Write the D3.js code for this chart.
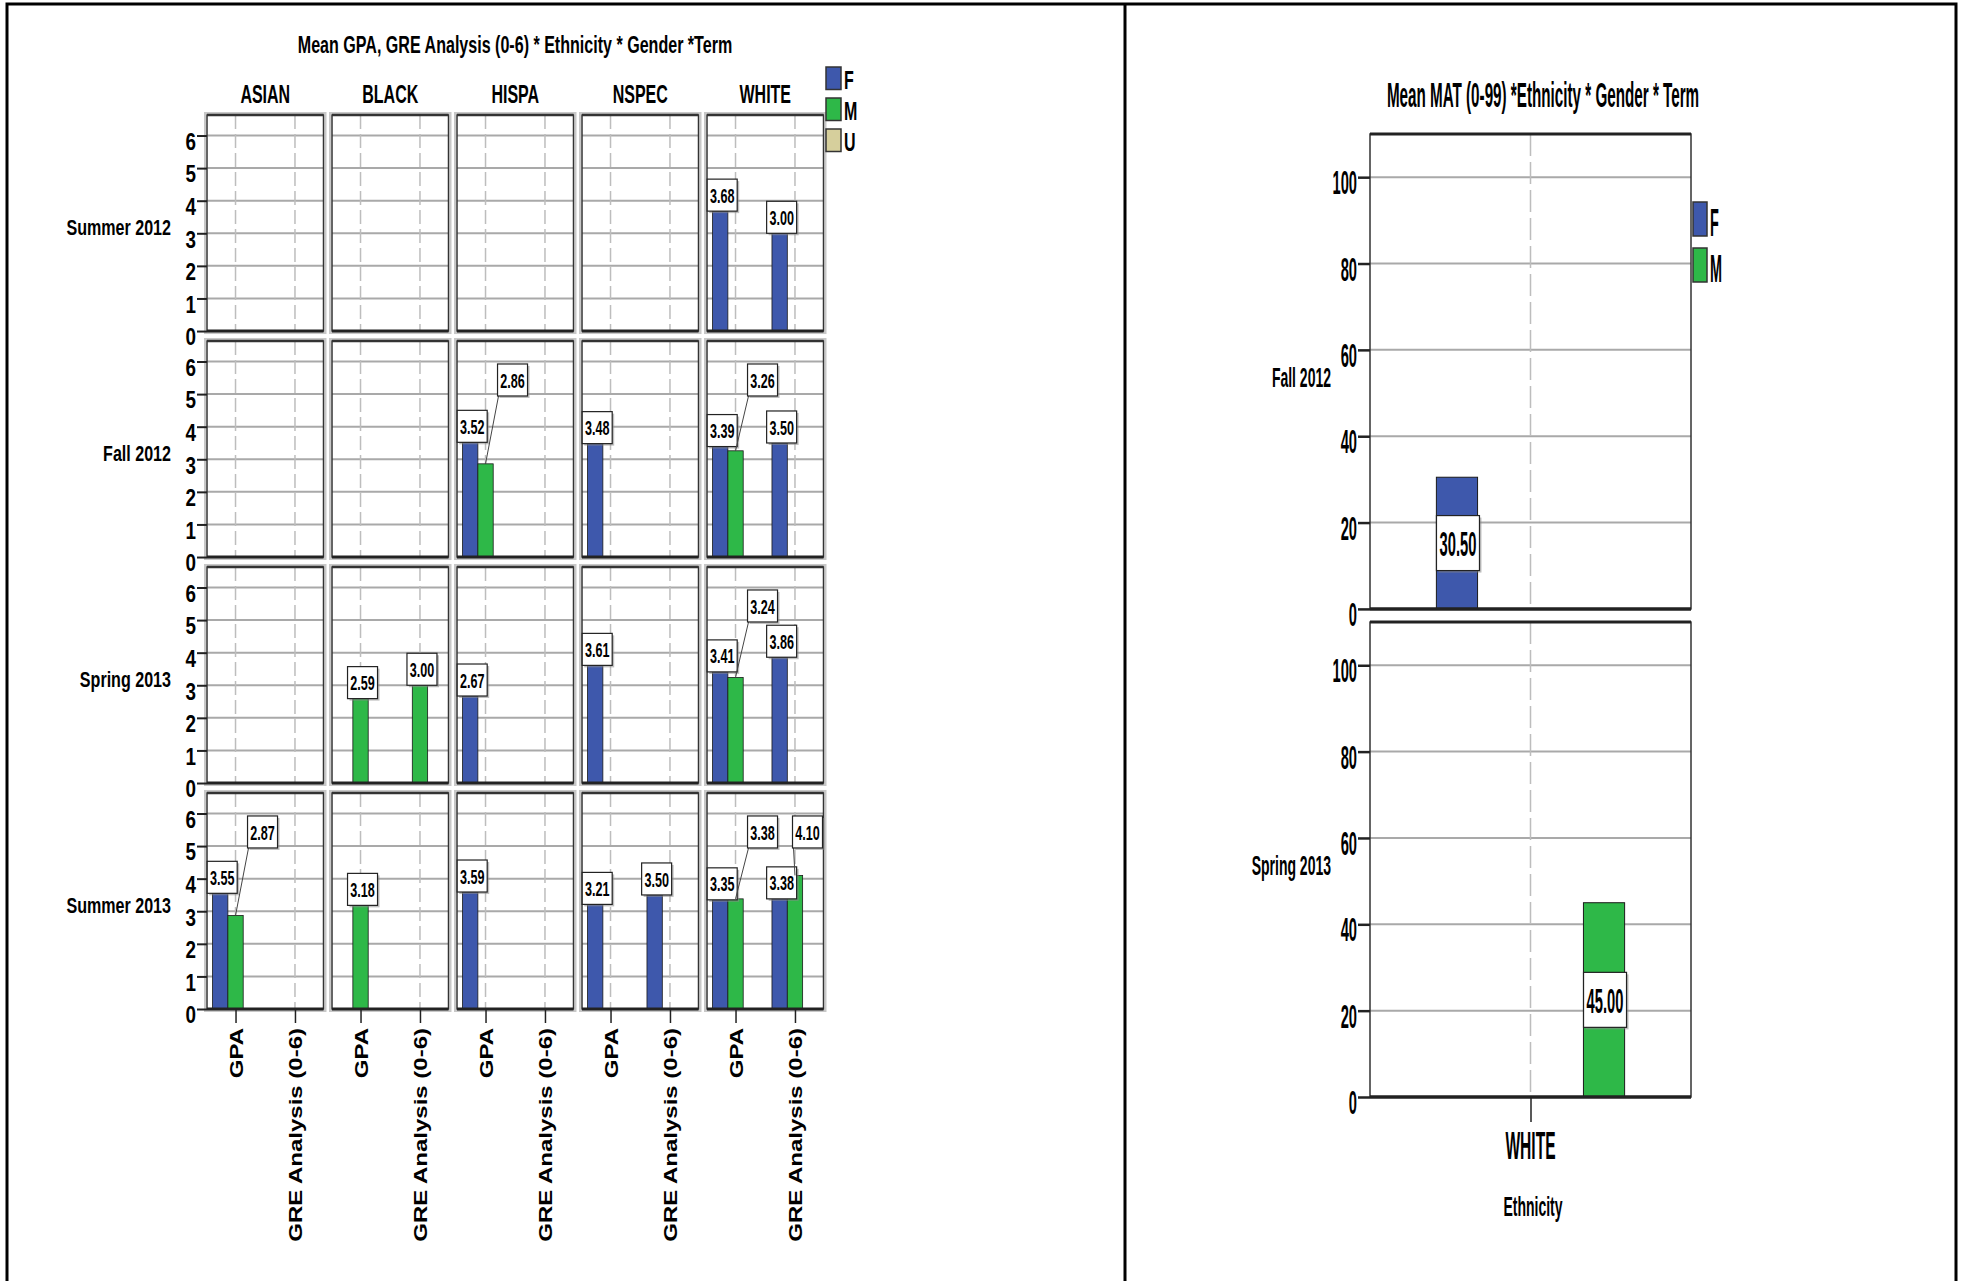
<!DOCTYPE html>
<html>

<head>
    <meta charset="UTF-8">
    <style>
        body { margin: 0; background: #fff; }
        svg text { font-family: "Liberation Sans", Arial, sans-serif; fill: #000; }
    </style>
    <title>Mean GPA, GRE Analysis and MAT by Ethnicity, Gender and Term</title>
</head>

<body>
    <svg></svg>
    <script src="https://d3js.org/d3.v7.min.js"></script>
    <script>
        let width = 1963, height = 1281;

        // ---- data: left chart (GPA / GRE Analysis) ----
        const terms = ["Summer 2012", "Fall 2012", "Spring 2013", "Summer 2013"];
        const ethnicities = ["ASIAN", "BLACK", "HISPA", "NSPEC", "WHITE"];
        const measures = ["GPA", "GRE Analysis (0-6)"];
        const genders = ["F", "M", "U"];
        const gpaTicks = [0, 1, 2, 3, 4, 5, 6];
        // [term, ethnicity, measure, gender, mean]
        const gpaGreMeans = [
            ["Summer 2012", "WHITE", "GPA", "F", 3.68],
            ["Summer 2012", "WHITE", "GRE Analysis (0-6)", "F", 3.00],
            ["Fall 2012", "HISPA", "GPA", "F", 3.52],
            ["Fall 2012", "HISPA", "GPA", "M", 2.86],
            ["Fall 2012", "NSPEC", "GPA", "F", 3.48],
            ["Fall 2012", "WHITE", "GPA", "F", 3.39],
            ["Fall 2012", "WHITE", "GPA", "M", 3.26],
            ["Fall 2012", "WHITE", "GRE Analysis (0-6)", "F", 3.50],
            ["Spring 2013", "BLACK", "GPA", "M", 2.59],
            ["Spring 2013", "BLACK", "GRE Analysis (0-6)", "M", 3.00],
            ["Spring 2013", "HISPA", "GPA", "F", 2.67],
            ["Spring 2013", "NSPEC", "GPA", "F", 3.61],
            ["Spring 2013", "WHITE", "GPA", "F", 3.41],
            ["Spring 2013", "WHITE", "GPA", "M", 3.24],
            ["Spring 2013", "WHITE", "GRE Analysis (0-6)", "F", 3.86],
            ["Summer 2013", "ASIAN", "GPA", "F", 3.55],
            ["Summer 2013", "ASIAN", "GPA", "M", 2.87],
            ["Summer 2013", "BLACK", "GPA", "M", 3.18],
            ["Summer 2013", "HISPA", "GPA", "F", 3.59],
            ["Summer 2013", "NSPEC", "GPA", "F", 3.21],
            ["Summer 2013", "NSPEC", "GRE Analysis (0-6)", "F", 3.50],
            ["Summer 2013", "WHITE", "GPA", "F", 3.35],
            ["Summer 2013", "WHITE", "GPA", "M", 3.38],
            ["Summer 2013", "WHITE", "GRE Analysis (0-6)", "F", 3.38],
            ["Summer 2013", "WHITE", "GRE Analysis (0-6)", "M", 4.10]
        ];

        // ---- data: right chart (MAT) ----
        const matTerms = ["Fall 2012", "Spring 2013"];
        const matEthnicities = ["WHITE"];
        const matGenders = ["F", "M"];
        const matTicks = [0, 20, 40, 60, 80, 100];
        // [term, ethnicity, gender, mean]
        const matMeans = [
            ["Fall 2012", "WHITE", "F", 30.50],
            ["Spring 2013", "WHITE", "M", 45.00]
        ];

        const genderColor = d3.scaleOrdinal()
            .domain(["F", "M", "U"])
            .range(["#3e58ac", "#2eb848", "#d6cf9c"]);

        let svg = d3.select("svg")
            .attr("width", width)
            .attr("height", height)
            .attr("viewBox", "0 0 " + width + " " + height);

        // condensed text helper (the original is squeezed horizontally)
        function sqText(parent, x, y, str, o) {
            return parent.append("text")
                .attr("transform", `translate(${x},${y}) scale(${o.sx},1)`)
                .attr("text-anchor", o.anchor || "middle")
                .attr("font-size", o.size)
                .attr("font-weight", o.weight || "bold")
                .text(str);
        }

        function labelBox(parent, cx, cy, w, h, str, size, sx) {
            parent.append("rect")
                .attr("x", cx - w / 2 + 2).attr("y", cy - h / 2 + 2)
                .attr("width", w).attr("height", h)
                .attr("fill", "#8a8a8a").attr("opacity", 0.55);
            parent.append("rect")
                .attr("x", cx - w / 2).attr("y", cy - h / 2)
                .attr("width", w).attr("height", h)
                .attr("fill", "#fff").attr("stroke", "#222").attr("stroke-width", 1.2);
            sqText(parent, cx, cy, str, { size: size, sx: sx }).attr("dy", "0.36em");
        }

        // outer frame + divider
        svg.append("path")
            .attr("d", "M7,1281 V4 H1956 V1281 M1125,4 V1281")
            .attr("fill", "none")
            .attr("stroke", "#000")
            .attr("stroke-width", 3);

        // =================== LEFT CHART ===================
        const L = { left: 207, right: 823.5, top: 115, bottom: 1009 };
        const col = d3.scaleBand().domain(ethnicities).range([L.left, L.right]).paddingInner(0.068);
        const row = d3.scaleBand().domain(terms).range([L.top, L.bottom]).paddingInner(0.044);
        const y = d3.scaleLinear().domain([0, 6.63]).range([row.bandwidth(), 0]);
        const xm = d3.scalePoint().domain(measures).range([0, col.bandwidth()]).padding(0.48);
        const xg = d3.scaleBand().domain(genders).range([-23, 23]);

        let left = svg.append("g").attr("id", "gpaChart");

        sqText(left, 515, 53, "Mean GPA, GRE Analysis (0-6) * Ethnicity * Gender *Term", { size: 24, sx: 0.67 });

        ethnicities.forEach(e => {
            sqText(left, col(e) + col.bandwidth() / 2, 103, e, { size: 25, sx: 0.64 });
        });

        // panels
        terms.forEach(t => {
            ethnicities.forEach(e => {
                let p = left.append("g")
                    .attr("transform", `translate(${col(e)},${row(t)})`);
                p.append("rect")
                    .attr("x", -2).attr("y", -2)
                    .attr("width", col.bandwidth() + 4).attr("height", row.bandwidth() + 4)
                    .attr("fill", "none").attr("stroke", "#c8c8c8").attr("stroke-width", 2);
                p.append("rect")
                    .attr("width", col.bandwidth()).attr("height", row.bandwidth())
                    .attr("fill", "#fff");
                p.selectAll(".hgrid")
                    .data(gpaTicks.filter(v => v > 0))
                    .enter().append("line")
                    .attr("x1", 0).attr("x2", col.bandwidth())
                    .attr("y1", d => y(d)).attr("y2", d => y(d))
                    .attr("stroke", "#a9a9a9").attr("stroke-width", 2);
                p.selectAll(".vgrid")
                    .data(measures)
                    .enter().append("line")
                    .attr("x1", d => xm(d)).attr("x2", d => xm(d))
                    .attr("y1", 0).attr("y2", row.bandwidth())
                    .attr("stroke", "#bdbdbd").attr("stroke-width", 1.5)
                    .attr("stroke-dasharray", "14,5");
                p.append("rect")
                    .attr("width", col.bandwidth()).attr("height", row.bandwidth())
                    .attr("fill", "none").attr("stroke", "#333").attr("stroke-width", 1.5);
                p.append("line")
                    .attr("x1", 0).attr("x2", col.bandwidth()).attr("y1", 0).attr("y2", 0)
                    .attr("stroke", "#333").attr("stroke-width", 2.5);
            });

            // y axis
            let ax = left.append("g")
                .attr("transform", `translate(${L.left},${row(t)})`)
                .call(d3.axisLeft(y).tickValues(gpaTicks).tickFormat(d3.format("d")).tickSize(10).tickPadding(2));
            ax.select(".domain").remove();
            ax.selectAll("line").attr("stroke", "#222").attr("stroke-width", 2);
            ax.selectAll("text")
                .attr("font-size", 23)
                .attr("font-weight", "bold")
                .attr("font-family", null)
                .attr("x", -11 / 0.82)
                .attr("dy", "0.6em")
                .attr("transform", "scale(0.82,1)");

            sqText(left, 171, row(t) + row.bandwidth() / 2 + 4, t, { size: 22.5, sx: 0.715, anchor: "end" })
                .attr("dy", "0.35em");
        });

        // bars
        const cellKey = d => d[0] + "|" + d[1] + "|" + d[2];
        const hasF = new Set(gpaGreMeans.filter(d => d[3] === "F").map(cellKey));

        let bars = left.append("g").attr("id", "gpaBars");
        bars.selectAll("rect")
            .data(gpaGreMeans)
            .enter().append("rect")
            .attr("x", d => col(d[1]) + xm(d[2]) + xg(d[3]))
            .attr("y", d => row(d[0]) + y(d[4]))
            .attr("width", xg.bandwidth())
            .attr("height", d => y(0) - y(d[4]))
            .attr("fill", d => genderColor(d[3]))
            .attr("stroke", "#1a1a1a").attr("stroke-width", 0.8);

        // zero baselines
        terms.forEach(t => {
            ethnicities.forEach(e => {
                left.append("line")
                    .attr("x1", col(e)).attr("x2", col(e) + col.bandwidth())
                    .attr("y1", row(t) + y(0)).attr("y2", row(t) + y(0))
                    .attr("stroke", "#222").attr("stroke-width", 3);
            });
        });

        // bottom axis (last row)
        const lastTerm = terms[terms.length - 1];
        ethnicities.forEach(e => {
            let bx = left.append("g")
                .attr("transform", `translate(${col(e)},${row(lastTerm) + y(0)})`)
                .call(d3.axisBottom(xm).tickSize(14));
            bx.select(".domain").remove();
            bx.selectAll("line").attr("stroke", "#222").attr("stroke-width", 1.5);
            bx.selectAll("text").remove();
            bx.selectAll(".tick").append("text")
                .attr("transform", "translate(0,19) scale(0.8,1) rotate(-90)")
                .attr("text-anchor", "end")
                .attr("dy", "0.36em")
                .attr("font-size", 24)
                .attr("font-weight", "bold")
                .text(d => d);
        });

        // value labels
        let labels = left.append("g").attr("id", "gpaLabels");
        gpaGreMeans.forEach(d => {
            const cx = col(d[1]) + xm(d[2]) + xg(d[3]) + xg.bandwidth() / 2;
            const top = row(d[0]) + y(d[4]);
            const boxW = 30, boxH = 32;
            if (d[3] === "M" && hasF.has(cellKey(d))) {
                const bl = Math.min(cx + 12, col(d[1]) + col.bandwidth() - boxW - 1);
                const bt = row(d[0]) + 23;
                labels.append("line")
                    .attr("x1", bl + 1).attr("y1", bt + boxH)
                    .attr("x2", cx).attr("y2", top)
                    .attr("stroke", "#444").attr("stroke-width", 1);
                labelBox(labels, bl + boxW / 2, bt + boxH / 2, boxW, boxH, d[4].toFixed(2), 21, 0.6);
            } else {
                labelBox(labels, cx + 2, top - boxH / 2, boxW, boxH, d[4].toFixed(2), 21, 0.6);
            }
        });

        // legend
        genders.forEach((gname, i) => {
            left.append("rect")
                .attr("x", 826).attr("y", 67 + i * 31)
                .attr("width", 15).attr("height", 22.5)
                .attr("fill", genderColor(gname))
                .attr("stroke", "#333").attr("stroke-width", 1.5);
            sqText(left, 844, 67 + i * 31 + 22, gname, { size: 25, sx: 0.64, anchor: "start" });
        });

        // =================== RIGHT CHART ===================
        const R = { left: 1370, right: 1691, top: 134, bottom: 1097 };
        const rowR = d3.scaleBand().domain(matTerms).range([R.top, R.bottom]).paddingInner(0.027);
        const yR = d3.scaleLinear().domain([0, 110]).range([rowR.bandwidth(), 0]);
        const xE = d3.scalePoint().domain(matEthnicities).range([R.left, R.right]).padding(0.5);
        const xG = d3.scaleBand().domain(matGenders).range([-115, 115]).paddingInner(0.72).paddingOuter(0.142);

        let right = svg.append("g").attr("id", "matChart");

        sqText(right, 1543, 107, "Mean MAT (0-99) *Ethnicity * Gender * Term", { size: 35, sx: 0.435 });

        matTerms.forEach(t => {
            let p = right.append("g").attr("transform", `translate(${R.left},${rowR(t)})`);
            const pw = R.right - R.left;
            p.append("rect")
                .attr("width", pw).attr("height", rowR.bandwidth())
                .attr("fill", "#fff");
            p.selectAll(".hgrid")
                .data(matTicks.filter(v => v > 0))
                .enter().append("line")
                .attr("x1", 0).attr("x2", pw)
                .attr("y1", d => yR(d)).attr("y2", d => yR(d))
                .attr("stroke", "#a9a9a9").attr("stroke-width", 2);
            p.selectAll(".vgrid")
                .data(matEthnicities)
                .enter().append("line")
                .attr("x1", d => xE(d) - R.left).attr("x2", d => xE(d) - R.left)
                .attr("y1", 0).attr("y2", rowR.bandwidth())
                .attr("stroke", "#bdbdbd").attr("stroke-width", 1.5)
                .attr("stroke-dasharray", "22,6");
            p.append("rect")
                .attr("width", pw).attr("height", rowR.bandwidth())
                .attr("fill", "none").attr("stroke", "#333").attr("stroke-width", 1.5);
            p.append("line")
                .attr("x1", 0).attr("x2", pw).attr("y1", 0).attr("y2", 0)
                .attr("stroke", "#222").attr("stroke-width", 3);

            let ax = right.append("g")
                .attr("transform", `translate(${R.left},${rowR(t)})`)
                .call(d3.axisLeft(yR).tickValues(matTicks).tickSize(12).tickPadding(2));
            ax.select(".domain").remove();
            ax.selectAll("line").attr("stroke", "#222").attr("stroke-width", 2.5);
            ax.selectAll("text")
                .attr("font-size", 33)
                .attr("font-weight", "bold")
                .attr("font-family", null)
                .attr("x", -13 / 0.445)
                .attr("dy", "0.5em")
                .attr("transform", "scale(0.445,1)");

            sqText(right, 1331, rowR(t) + rowR.bandwidth() / 2 + 6, t, { size: 28, sx: 0.5, anchor: "end" })
                .attr("dy", "0.35em");
        });

        right.append("g").selectAll("rect")
            .data(matMeans)
            .enter().append("rect")
            .attr("x", d => xE(d[1]) + xG(d[2]))
            .attr("y", d => rowR(d[0]) + yR(d[3]))
            .attr("width", xG.bandwidth())
            .attr("height", d => yR(0) - yR(d[3]))
            .attr("fill", d => genderColor(d[2]))
            .attr("stroke", "#1a1a1a").attr("stroke-width", 1);

        matTerms.forEach(t => {
            right.append("line")
                .attr("x1", R.left).attr("x2", R.right)
                .attr("y1", rowR(t) + yR(0)).attr("y2", rowR(t) + yR(0))
                .attr("stroke", "#222").attr("stroke-width", 3.5);
        });

        matMeans.forEach(d => {
            const cx = xE(d[1]) + xG(d[2]) + xG.bandwidth() / 2;
            const cy = rowR(d[0]) + yR(d[3] / 2);
            labelBox(right, cx + 1, cy, 43, 55, d[3].toFixed(2), 36, 0.41);
        });

        // bottom axis
        const lastMat = matTerms[matTerms.length - 1];
        let bxR = right.append("g")
            .attr("transform", `translate(0,${rowR(lastMat) + yR(0)})`)
            .call(d3.axisBottom(xE).tickSize(25));
        bxR.select(".domain").remove();
        bxR.selectAll("line").attr("stroke", "#222").attr("stroke-width", 1.5);
        bxR.selectAll("text").remove();
        matEthnicities.forEach(e => {
            sqText(right, xE(e), 1159, e, { size: 38, sx: 0.41 });
        });
        sqText(right, 1533, 1216, "Ethnicity", { size: 28, sx: 0.5 });

        // legend
        matGenders.forEach((gname, i) => {
            right.append("rect")
                .attr("x", 1693).attr("y", 202 + i * 46)
                .attr("width", 14).attr("height", 34)
                .attr("fill", genderColor(gname))
                .attr("stroke", "#333").attr("stroke-width", 1.5);
            sqText(right, 1710, 202 + i * 46 + 34, gname, { size: 38, sx: 0.38, anchor: "start" });
        });
    </script>
</body>

</html>
